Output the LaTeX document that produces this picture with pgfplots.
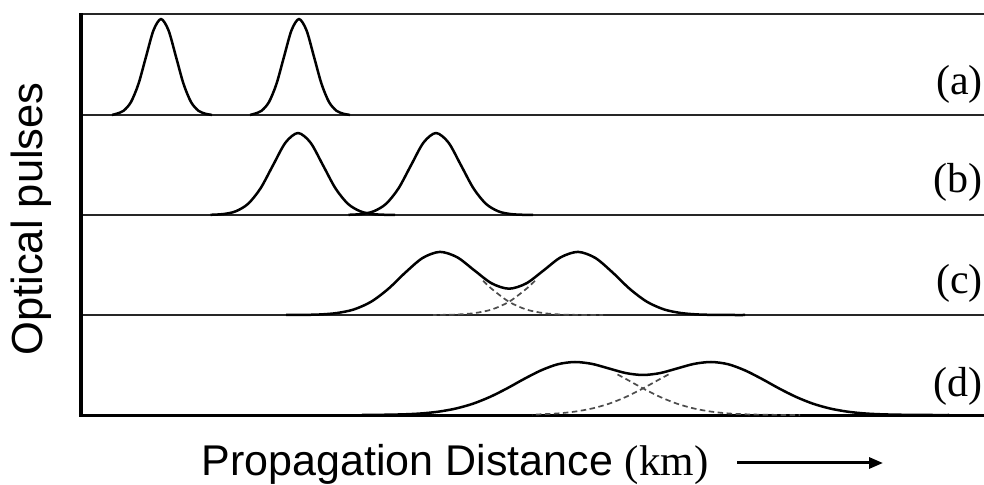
\documentclass[border=0pt]{standalone}
\usepackage{fontspec}
\setmainfont{Liberation Serif}
\newfontfamily\arial{Liberation Sans}
\usepackage{pgfplots}
\pgfplotsset{compat=1.18}
\usetikzlibrary{arrows.meta}
\begin{document}
\begin{tikzpicture}
\path[use as bounding box] (0,0) rectangle (984bp,485bp);
\begin{axis}[at={(0,0)}, anchor=south west, scale only axis,
  width=984bp, height=485bp, xmin=0, xmax=984, ymin=-70, ymax=415,
  hide axis, clip=false]
% frame and panel separators
\draw[line width=1.5bp, black!85] (axis cs:81,401) -- (axis cs:984,401);
\draw[line width=1.5bp, black!85] (axis cs:81,300) -- (axis cs:984,300);
\draw[line width=1.5bp, black!85] (axis cs:81,200) -- (axis cs:984,200);
\draw[line width=1.5bp, black!85] (axis cs:81,100) -- (axis cs:984,100);
\draw[line width=3.2bp] (axis cs:81,-0.5) -- (axis cs:984,-0.5);
\draw[line width=3.2bp] (axis cs:81,-2) -- (axis cs:81,402);

% (a)
\addplot[smooth, line width=2.5bp, black, line join=round] coordinates {
(112,300.1) (116,301.1) (123.5,304.2) (131,313.0) (138.5,331.2) (146,358.2) (153.5,384.7) (161,396) (168.5,384.7) (176,358.2) (183.5,331.2) (191,313.0) (198.5,304.2) (206,301.1) (212,300.1)};
\addplot[smooth, line width=2.5bp, black, line join=round] coordinates {
(250,300.1) (254,301.1) (261.5,304.2) (269,313.0) (276.5,331.2) (284,358.2) (291.5,384.7) (299,396) (306.5,384.7) (314,358.2) (321.5,331.2) (329,313.0) (336.5,304.2) (344,301.1) (350,300.1)};

% (b)
\addplot[smooth, line width=2.5bp, black, line join=round] coordinates {
(210.5,200.2) (223,200.9) (235.5,203.6) (248,211.1) (260.5,226.6) (273,249.7) (285.5,272.4) (298,282) (310.5,272.4) (323,249.7) (335.5,226.6) (348,211.1) (360.5,203.6) (373,200.9) (385.5,200.2) (395,200)};
\addplot[smooth, line width=2.5bp, black, line join=round] coordinates {
(348.5,200.2) (361,200.9) (373.5,203.6) (386,211.1) (398.5,226.6) (411,249.7) (423.5,272.4) (436,282) (448.5,272.4) (461,249.7) (473.5,226.6) (486,211.1) (498.5,203.6) (511,200.9) (523.5,200.2) (533,200)};

% (c)
\addplot[smooth, line width=1.7bp, black!70, dash pattern=on 5.5bp off 3.5bp] coordinates {
(483.1,134.2) (491.75,126.1) (509,113.2) (526.25,105.5) (543.5,101.9) (560.75,100.5) (578,100.1) (595.25,100) (603,100)};
\addplot[smooth, line width=1.7bp, black!70, dash pattern=on 5.5bp off 3.5bp] coordinates {
(534.9,134.2) (526.25,126.1) (509,113.2) (491.75,105.5) (474.5,101.9) (457.25,100.5) (440,100.1) (433,100)};
\addplot[smooth, line width=2.5bp, black, line join=round] coordinates {
(286,100) (302,100.1) (319.25,100.5) (336.5,101.9) (353.75,105.5) (371,113.2) (388.25,126.1) (405.5,142.6) (422.75,157.1) (440,163.1) (457.25,157.7) (474.5,144.5) (491.75,131.6) (509,126.3) (526.25,131.6) (543.5,144.5) (560.75,157.7) (578,163.1) (595.25,157.1) (612.5,142.6) (629.75,126.1) (647,113.2) (664.25,105.5) (681.5,101.9) (698.75,100.5) (716,100.1) (733.25,100) (745,100)};

% (d)
\addplot[smooth, line width=1.7bp, black!70, dash pattern=on 5.5bp off 3.5bp] coordinates {
(617.5,40.5) (626,36.0) (643,26.6) (660,18.1) (677,11.3) (694,6.5) (711,3.4) (728,1.6) (745,0.7) (762,0.3) (779,0.1) (800,0)};
\addplot[smooth, line width=1.7bp, black!70, dash pattern=on 5.5bp off 3.5bp] coordinates {
(668.5,40.5) (660,36.0) (643,26.6) (626,18.1) (609,11.3) (592,6.5) (575,3.4) (558,1.6) (541,0.7) (532,0.3)};
\addplot[smooth, line width=2.5bp, black, line join=round] coordinates {
(362,0) (371,0.1) (388,0.3) (405,0.7) (422,1.6) (439,3.4) (456,6.5) (473,11.3) (490,18.1) (507,26.6) (524,36.0) (541,44.6) (558,50.8) (575,53) (592,51.1) (609,46.5) (626,41.9) (643,40) (660,41.9) (677,46.5) (694,51.1) (711,53) (728,50.8) (745,44.6) (762,36.0) (779,26.6) (796,18.1) (813,11.3) (830,6.5) (847,3.4) (864,1.6) (881,0.7) (898,0.3) (915,0.1) (932,0) (949,0)};

% panel labels
\node[anchor=east, inner sep=0pt, font=\fontsize{42bp}{48bp}\selectfont] at (axis cs:983,331) {(a)};
\node[anchor=east, inner sep=0pt, font=\fontsize{42bp}{48bp}\selectfont] at (axis cs:983,232.5) {(b)};
\node[anchor=east, inner sep=0pt, font=\fontsize{42bp}{48bp}\selectfont] at (axis cs:983,132) {(c)};
\node[anchor=east, inner sep=0pt, font=\fontsize{42bp}{48bp}\selectfont] at (axis cs:983,29) {(d)};

% axis labels
\node[rotate=90, inner sep=0pt, font=\arial\fontsize{43.5bp}{50bp}\selectfont] at (axis cs:31,196) {Optical pulses};
\node[anchor=base west, inner sep=0pt, font=\arial\fontsize{43bp}{50bp}\selectfont] at (axis cs:201.7,-60) {Propagation Distance {\rmfamily (km)}};
\draw[line width=3bp, -{Triangle[length=14bp, width=11bp]}] (axis cs:737,-48) -- (axis cs:883,-48);
\end{axis}
\end{tikzpicture}
\end{document}
